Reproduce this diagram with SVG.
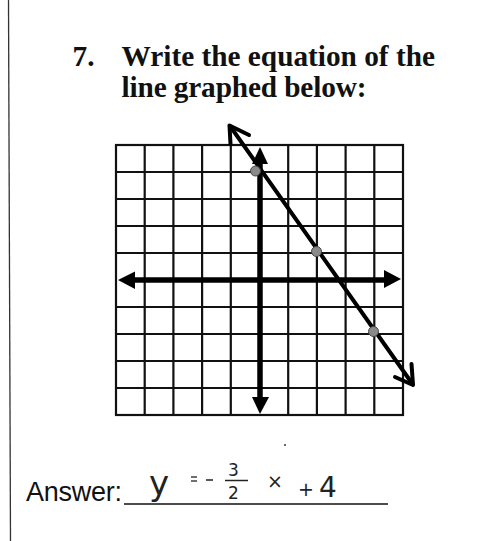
<svg xmlns="http://www.w3.org/2000/svg" width="491" height="541" viewBox="0 0 491 541">
<style>
.title{font-family:"Liberation Serif","Times New Roman",serif;font-weight:bold;font-size:29.3px;fill:#111}
.ans{font-family:"Liberation Sans",Arial,sans-serif;font-size:27px;fill:#111}
.hand{font-family:"DejaVu Sans","Liberation Sans",sans-serif;fill:#222}
.grid{stroke:#111;stroke-width:2.2;fill:none}
.axis{stroke:#000;stroke-width:5.5;fill:none}
.head{fill:#000}
.gline{stroke:#000;stroke-width:4;fill:none;stroke-linecap:round;stroke-linejoin:round}
.dot{fill:#8a8a8a;stroke:#444;stroke-width:1}
</style>
<rect width="491" height="541" fill="#fff"/>
<line x1="8.5" y1="0" x2="10.5" y2="541" stroke="#333" stroke-width="1.3"/>
<g id="title">
<text class="title" x="72.5" y="65.5">7.</text>
<text class="title" x="121.5" y="65.5" textLength="313.5">Write the equation of the</text>
<text class="title" x="121.5" y="96.5" textLength="245">line graphed below:</text>
</g>
<g id="grid">
<rect class="grid" x="116" y="145" width="287" height="270" stroke-width="2.6"/>
<path class="grid" d="M144.7 145V415M173.4 145V415M202.1 145V415M230.8 145V415M288.2 145V415M316.9 145V415M345.6 145V415M374.3 145V415M116 172H403M116 199H403M116 226H403M116 253H403M116 307H403M116 334H403M116 361H403M116 388H403"/>
</g>
<g id="axes">
<line class="axis" x1="260" y1="160" x2="260" y2="400"/>
<polygon class="head" points="260,147 252,164 268,164"/>
<polygon class="head" points="260,414 252,397 269,397"/>
<line class="axis" x1="130" y1="280" x2="390" y2="280"/>
<polygon class="head" points="118,280 135,271.5 135,289"/>
<polygon class="head" points="401,279 384,270 384,288"/>
</g>
<g id="connectors">
<line class="gline" x1="230" y1="126" x2="412.5" y2="384"/>
<polyline class="gline" points="249,135 229.5,125.5 230.5,144"/>
<polyline class="gline" points="395,377 413,385 411.5,364"/>
</g>
<g id="points">
<circle class="dot" cx="255.5" cy="171" r="5"/>
<circle class="dot" cx="316.5" cy="251.5" r="5"/>
<circle class="dot" cx="373.5" cy="331.5" r="5"/>
</g>
<g id="answer">
<text class="ans" x="26" y="501" textLength="96">Answer:</text>
<line x1="124" y1="504" x2="388" y2="504" stroke="#111" stroke-width="1.5"/>
<text class="hand" x="149" y="495" font-size="34" textLength="25">y</text>
<line x1="191" y1="477" x2="197" y2="477" stroke="#222" stroke-width="1.3"/>
<line x1="191" y1="481" x2="197" y2="481" stroke="#222" stroke-width="1.3"/>
<line x1="206" y1="480" x2="213" y2="480" stroke="#222" stroke-width="1.5"/>
<text class="hand" x="228" y="476" font-size="17">3</text>
<line x1="225" y1="480.5" x2="248" y2="480.5" stroke="#222" stroke-width="1.5"/>
<text class="hand" x="228" y="499" font-size="17">2</text>
<text class="hand" x="267" y="488" font-size="19">×</text>
<circle cx="285" cy="445" r="0.9" fill="#222"/>
<text class="hand" x="298" y="496" font-size="19">+</text>
<text class="hand" x="319" y="497" font-size="28">4</text>
</g>
</svg>
